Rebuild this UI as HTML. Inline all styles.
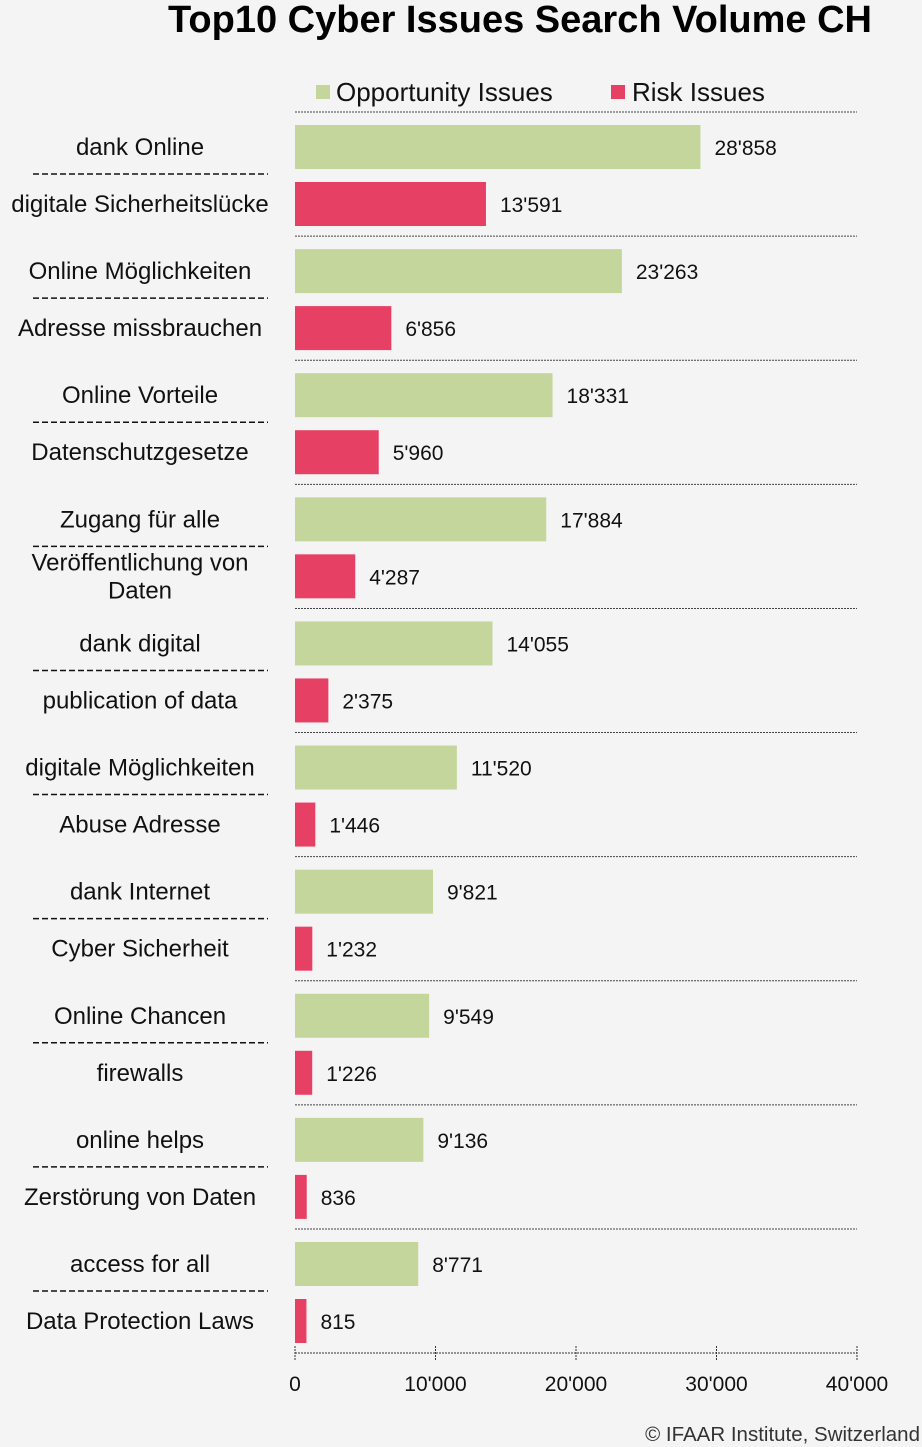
<!DOCTYPE html>
<html><head><meta charset="utf-8"><style>
html,body{margin:0;padding:0;background:#f4f4f4;}
svg{display:block;font-family:"Liberation Sans",sans-serif;}
</style></head><body>
<svg id="chart" width="922" height="1447" viewBox="0 0 922 1447">
<rect width="922" height="1447" fill="#f4f4f4"/>
<text x="520" y="32" text-anchor="middle" font-size="38" font-weight="bold" fill="#000">Top10 Cyber Issues Search Volume CH</text>
<g>
<rect x="316" y="85" width="14" height="14" fill="#c4d69b"/>
<text x="336" y="101" font-size="26" fill="#111">Opportunity Issues</text>
<rect x="611" y="85" width="14" height="14" fill="#e64164"/>
<text x="632" y="101" font-size="26" fill="#111">Risk Issues</text>
</g>
<g id="plot"></g>
<text x="920" y="1441" text-anchor="end" font-size="20.5" fill="#333">© IFAAR Institute, Switzerland</text>
</svg>
<script>
const oppLabels = ["dank Online","Online Möglichkeiten","Online Vorteile","Zugang für alle","dank digital","digitale Möglichkeiten","dank Internet","Online Chancen","online helps","access for all"];
const oppValues = [28858,23263,18331,17884,14055,11520,9821,9549,9136,8771];
const riskLabels = ["digitale Sicherheitslücke","Adresse missbrauchen","Datenschutzgesetze","Veröffentlichung von|Daten","publication of  data","Abuse Adresse","Cyber Sicherheit","firewalls","Zerstörung von Daten","Data Protection Laws"];
const riskValues = [13591,6856,5960,4287,2375,1446,1232,1226,836,815];
const tickValues = [0,10000,20000,30000,40000];
const tickLabels = ["0","10'000","20'000","30'000","40'000"];

const NS = "http://www.w3.org/2000/svg";
const g = document.getElementById('plot');
const x0 = 295, x1 = 857, xMax = 40000;
const xs = v => x0 + (v / xMax) * (x1 - x0);
const top0 = 112, step = (1229 - 112) / 9;
const fmt = v => String(v).replace(/\B(?=(\d{3})+(?!\d))/g, "'");
function mk(tag, attrs){const e=document.createElementNS(NS,tag);for(const k in attrs)e.setAttribute(k,attrs[k]);g.appendChild(e);return e;}

for (let i = 0; i < oppValues.length; i++) {
  const ly = top0 + i * step;
  const sep = mk('line',{x1:x0,x2:x1,y1:ly,y2:ly,stroke:'#444','stroke-width':1,'stroke-dasharray':'2,1'});
  
  
  const gy = ly + 13, h = 44;
  const b1 = mk('rect',{x:x0,y:gy,width:xs(oppValues[i])-x0,height:h,fill:'#c4d69b'});
  
  
  const v1 = mk('text',{x:xs(oppValues[i])+14,y:gy+30,'font-size':21,fill:'#111'}); v1.textContent = fmt(oppValues[i]);
  
  
  const l1 = mk('text',{x:140,y:gy+30,'text-anchor':'middle','font-size':24,fill:'#111'}); l1.textContent = oppLabels[i];
  
  
  const d = mk('line',{x1:33,x2:268,y1:ly+62,y2:ly+62,stroke:'#111','stroke-width':1.5,'stroke-dasharray':'6,3'});
  
  
  const ry = ly + 70;
  const b2 = mk('rect',{x:x0,y:ry,width:xs(riskValues[i])-x0,height:h,fill:'#e64164'});
  
  
  const v2 = mk('text',{x:xs(riskValues[i])+14,y:ry+30,'font-size':21,fill:'#111'}); v2.textContent = fmt(riskValues[i]);
  
  
  const parts = riskLabels[i].split('|');
  parts.forEach((p, k) => {
    const yy = parts.length > 1 ? ry + 16 + k * 28 : ry + 30;
    const l2 = mk('text',{x:140,y:yy,'text-anchor':'middle','font-size':24,fill:'#111'}); l2.textContent = p;
    
    
  });
}
const ay = 1353;
const axis = mk('line',{x1:x0,x2:x1,y1:ay,y2:ay,stroke:'#333','stroke-width':1,'stroke-dasharray':'2,1'});


tickValues.forEach((t, k) => {
  const tk = mk('line',{x1:xs(t),x2:xs(t),y1:ay-7,y2:ay+7,stroke:'#333','stroke-width':1,'stroke-dasharray':'2,1'});
  
  
  const tl = mk('text',{x:xs(t),y:ay+38,'text-anchor':'middle','font-size':21,fill:'#111'}); tl.textContent = tickLabels[k];
  
  
});
</script>
</body></html>
